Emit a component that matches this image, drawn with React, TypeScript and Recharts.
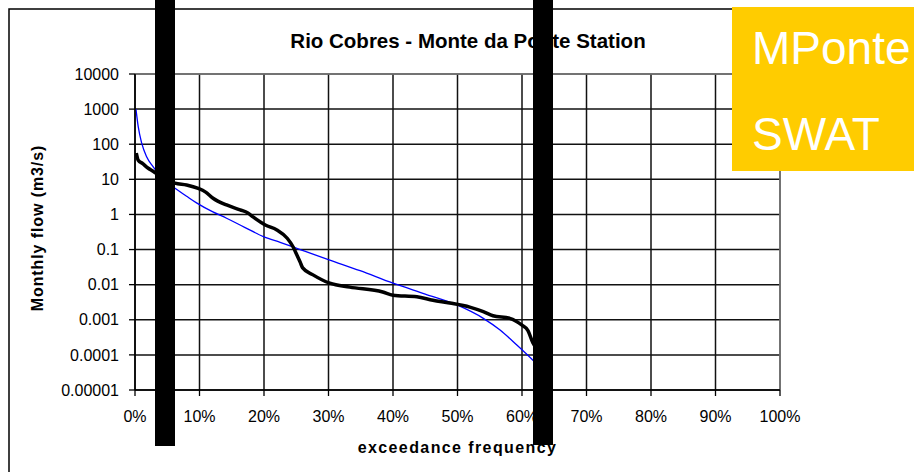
import React from "react";
import { LineChart, Line, XAxis, YAxis, CartesianGrid, ReferenceLine } from "recharts";

// Flow duration curves, Rio Cobres at Monte da Ponte
const swatFreq = [0.15, 0.5, 1.04, 1.8, 2.8, 4, 5, 6.2, 8, 9.6, 12, 14.2, 17, 20, 22.5, 25.6, 30.2, 34.9, 40, 45, 50, 54, 56.6, 59.2, 61.7, 62.5];
const swatFlow = [1000, 316, 107, 44, 23, 12, 8, 5.6, 3.3, 2.1, 1.2, 0.78, 0.43, 0.23, 0.16, 0.1, 0.05, 0.025, 0.011, 0.0054, 0.0026, 0.0011, 0.00051, 0.00019, 0.00007, 0.00005];

const mponteFreq = [0.2, 0.5, 1.2, 2, 2.8, 4, 5, 6.2, 8, 9.8, 10.9, 12.1, 14.2, 16.3, 17.5, 18.3, 20.2, 22, 23.6, 24.5, 25.1, 25.6, 26, 27.6, 30.2, 33.3, 38.4, 40, 43.7, 46.2, 48.8, 51.9, 54, 55.5, 58.1, 60, 60.9, 61.7, 62.3];
const mponteFlow = [56, 35, 28, 21, 17, 12, 9.5, 7.8, 6.9, 5.5, 4.4, 2.9, 1.86, 1.35, 1.1, 0.85, 0.5, 0.36, 0.21, 0.12, 0.07, 0.044, 0.03, 0.019, 0.011, 0.0085, 0.0062, 0.005, 0.0045, 0.0036, 0.003, 0.0023, 0.0017, 0.0013, 0.0011, 0.0007, 0.0005, 0.00022, 0.00015];

const xTicks = [0, 10, 20, 30, 40, 50, 60, 70, 80, 90, 100];
const yTicks = [0.00001, 0.0001, 0.001, 0.01, 0.1, 1, 10, 100, 1000, 10000];
const yTickLabels = ["0.00001", "0.0001", "0.001", "0.01", "0.1", "1", "10", "100", "1000", "10000"];

const seriesNames = ["MPonte", "SWAT"];

const swatData = swatFreq.map((f, i) => ({ freq: f, flow: swatFlow[i] }));
const mponteData = mponteFreq.map((f, i) => ({ freq: f, flow: mponteFlow[i] }));

const FONT = '"Liberation Sans", Arial, sans-serif';

export default function App() {
  return (
    <div style={{ position: "absolute", left: 0, top: 0, width: 914, height: 472, overflow: "hidden", background: "#fff" }}>
      <LineChart width={914} height={472} margin={{ top: 74, right: 134, bottom: 22, left: 0 }}>
        <CartesianGrid stroke="#111" strokeWidth={1.5} />
        <XAxis
          type="number"
          dataKey="freq"
          domain={[0, 100]}
          ticks={xTicks}
          interval={0}
          tickFormatter={(v: number) => `${v}%`}
          height={60}
          tickSize={6}
          tickMargin={15}
          tick={{ fill: "#000", fontSize: 16, fontFamily: FONT }}
          axisLine={{ stroke: "#000", strokeWidth: 1.5 }}
          tickLine={{ stroke: "#000", strokeWidth: 1.3 }}
          allowDataOverflow
        />
        <YAxis
          type="number"
          scale="log"
          domain={[0.00001, 10000]}
          ticks={yTicks}
          interval={0}
          tickFormatter={(v: number) => {
            const i = yTicks.findIndex((t) => Math.abs(Math.log10(t) - Math.log10(v)) < 1e-6);
            return i >= 0 ? yTickLabels[i] : String(v);
          }}
          width={135}
          tickSize={6}
          tickMargin={10}
          tick={{ fill: "#000", fontSize: 16, fontFamily: FONT }}
          axisLine={{ stroke: "#000", strokeWidth: 1.5 }}
          tickLine={{ stroke: "#000", strokeWidth: 1.3 }}
          allowDataOverflow
        />
        <ReferenceLine y={10000} stroke="#808080" strokeWidth={1.5} />
        <ReferenceLine x={100} stroke="#808080" strokeWidth={1.5} />
        <Line
          data={swatData}
          dataKey="flow"
          name={seriesNames[1]}
          type="monotone"
          stroke="#0000FF"
          strokeWidth={1.3}
          dot={false}
          isAnimationActive={false}
        />
        <Line
          data={mponteData}
          dataKey="flow"
          name={seriesNames[0]}
          type="monotone"
          stroke="#000"
          strokeWidth={3.5}
          dot={false}
          isAnimationActive={false}
        />
      </LineChart>
      <svg
        width={914}
        height={472}
        style={{ position: "absolute", left: 0, top: 0, pointerEvents: "none" }}
      >
        <rect x={9} y={9} width={1000} height={1000} fill="none" stroke="#000" strokeWidth={1.5} />
        <text x={468} y={48} textAnchor="middle" fontFamily={FONT} fontWeight="bold" fontSize={20.5} fill="#000">
          Rio Cobres - Monte da Ponte Station
        </text>
        <text
          x={457.5}
          y={453}
          textAnchor="middle"
          fontFamily={FONT}
          fontWeight="bold"
          fontSize={16}
          letterSpacing={1.4}
          fill="#000"
        >
          exceedance frequency
        </text>
        <text
          x={43}
          y={228}
          textAnchor="middle"
          fontFamily={FONT}
          fontWeight="bold"
          fontSize={16}
          letterSpacing={0.9}
          fill="#000"
          transform="rotate(-90, 43, 228)"
        >
          Monthly flow (m3/s)
        </text>
        <rect x={155} y={0} width={20} height={446} fill="#000" />
        <rect x={533} y={0} width={20} height={445} fill="#000" />
        <rect x={732} y={7} width={200} height={164} fill="#FFCC00" />
        <text x={752} y={64} fontFamily={FONT} fontSize={46} fill="#fff">
          {seriesNames[0]}
        </text>
        <text x={752} y={150} fontFamily={FONT} fontSize={46} fill="#fff">
          {seriesNames[1]}
        </text>
      </svg>
    </div>
  );
}
